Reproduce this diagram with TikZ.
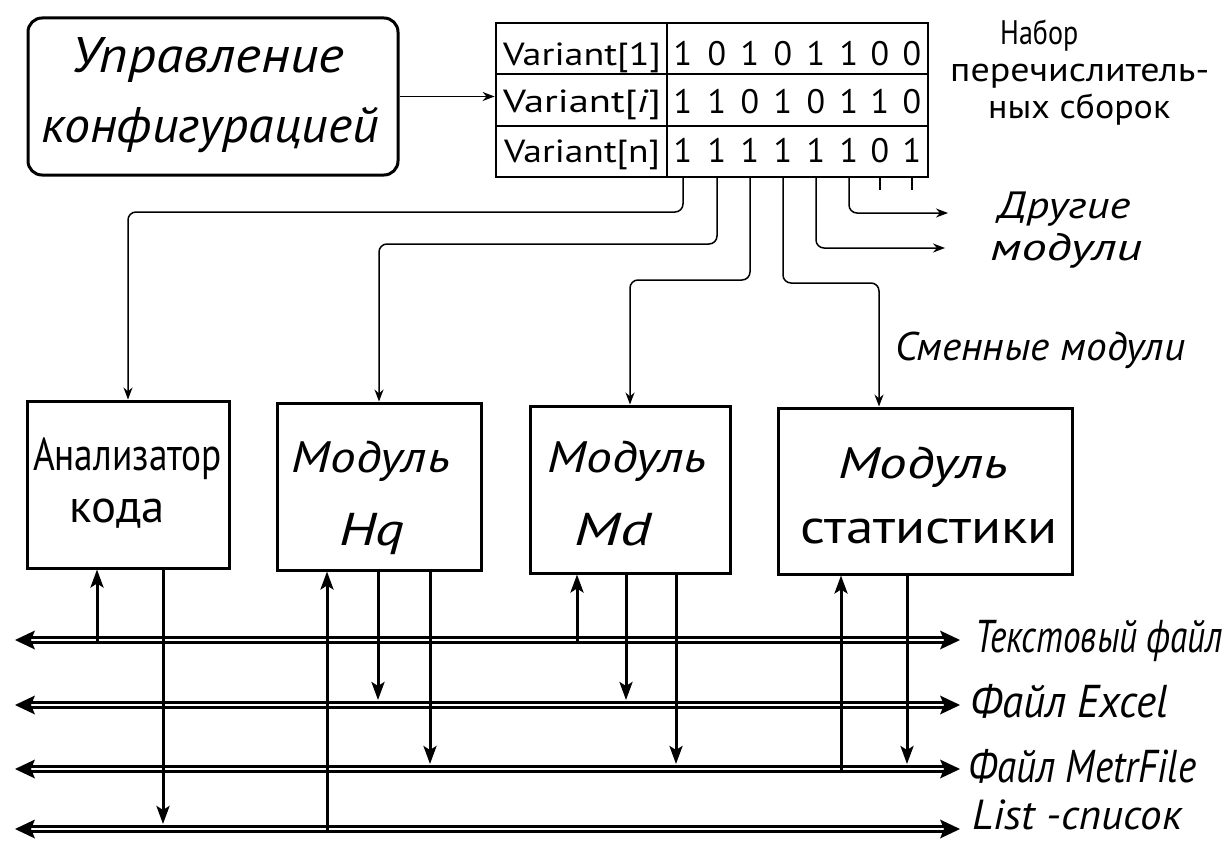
\documentclass[tikz,border=0pt]{standalone}
\usepackage{fontspec}
\setmainfont{PT Sans}
\usetikzlibrary{arrows.meta}
% stretch a line of text horizontally to a given width
\newcommand\wfit[2]{\resizebox{#1}{\height}{#2}}
\newcommand\fsz[1]{\fontsize{#1}{#1}\selectfont}

\tikzset{
  box/.style={draw, line width=3pt, inner sep=0pt},
  cell/.style={draw, line width=2.2pt, inner sep=0pt, minimum height=51.3pt},
  txt/.style={inner sep=0pt, anchor=base},
  txtw/.style={inner sep=0pt, anchor=base west},
  hand/.style={font=\fsz{#1}\itshape},
  print/.style={font=\fsz{#1}},
  thinln/.style={line width=1.5pt},
  thintip/.style={-{Stealth[length=12pt,width=9pt]}},
  vln/.style={line width=3pt},
  vtip/.style={-{Stealth[length=18pt,width=13pt,inset=4pt]}},
  bus/.style={double, line width=2.8pt, double distance=2.6pt,
              shorten <=13pt, shorten >=13pt},
}

\begin{document}
\begin{tikzpicture}[x=1pt,y=-1pt]
\path[use as bounding box, fill=white] (0,0) rectangle (1231,843);

% ---------- configuration manager ----------
\node[box, rounded corners=14pt, minimum width=370pt, minimum height=157pt] (cfg) at (213,96.5) {};
\node[txt, hand=50] (cfgA) at (208,72) {\wfit{272pt}{Управление}};
\node[txt, hand=50] (cfgB) at (210,142) {\wfit{337pt}{конфигурацией}};

% ---------- table of enumerator variants ----------
\node[cell, minimum width=171pt] (v1) at (581.5,48.7) {};
\node[cell, minimum width=171pt] (v2) at (581.5,100) {};
\node[cell, minimum width=171pt] (v3) at (581.5,151.3) {};
\node[cell, minimum width=261pt] (w1) at (797.5,48.7) {};
\node[cell, minimum width=261pt] (w2) at (797.5,100) {};
\node[cell, minimum width=261pt] (w3) at (797.5,151.3) {};
\node[draw, line width=2.8pt, inner sep=0pt, minimum width=432pt, minimum height=154pt] (tbl) at (712,100) {};

\node[txt, print=32] (n1) at (582,66) {\wfit{158pt}{Variant[1]}};
\node[txt, print=32] (n2) at (582,113) {\wfit{158pt}{Variant[\textit{i}]}};
\node[txt, print=32] (n3) at (582,162) {\wfit{156pt}{Variant[n]}};

\foreach \x [count=\c] in {683,717,750,783,816,849,880,912}{
  \coordinate (tap\c) at (\x,177);
}
\foreach \row/\y/\bits in {1/66/{1,0,1,0,1,1,0,0},2/113/{1,1,0,1,0,1,1,0},3/162/{1,1,1,1,1,1,0,1}}{
  \foreach \b [count=\c] in \bits {
    \node[txt, print=34] (d\row\c) at (tap\c |- 0,\y) {\b};
  }
}

\draw[thinln, thintip] (cfg.east) -- (cfg.east -| tbl.west);

\node[txtw, print=34] (setA) at (1000,45) {\wfit{78pt}{Набор}};
\node[txtw, print=34] (setB) at (950,82) {\wfit{259pt}{перечислитель-}};
\node[txtw, print=34] (setC) at (988,118) {\wfit{182pt}{ных сборок}};

% ---------- replaceable modules ----------
\node[box, minimum width=202pt, minimum height=167pt] (ana) at (128,484.5) {};
\node[box, minimum width=204pt, minimum height=167pt] (hq) at (379,486.5) {};
\node[box, minimum width=200pt, minimum height=167pt] (md) at (630,489.5) {};
\node[box, minimum width=294pt, minimum height=166pt] (stat) at (925,491) {};

\node[txt, print=46] (anaA) at (127.5,470) {\wfit{189pt}{Анализатор}};
\node[txt, print=46] (anaB) at (117,522) {\wfit{95pt}{кода}};
\node[txt, hand=44] (hqA) at (371,472) {\wfit{158pt}{Модуль}};
\node[txt, hand=46] (hqB) at (372,545) {\wfit{66pt}{Hq}};
\node[txt, hand=44] (mdA) at (627,472) {\wfit{159pt}{Модуль}};
\node[txt, hand=46] (mdB) at (613,545) {\wfit{77pt}{Md}};
\node[txt, hand=44] (stA) at (923,478) {\wfit{170pt}{Модуль}};
\node[txt, print=48] (stB) at (929,543) {\wfit{258pt}{статистики}};

% ---------- selector lines ----------
\coordinate (oth1) at (948,213);
\coordinate (oth2) at (945,248);
\draw[thinln, thintip, rounded corners=8pt] (tap1) -- ++(0,35) -| (ana.north);
\draw[thinln, thintip, rounded corners=8pt] (tap2) -- ++(0,67) -| (hq.north);
\draw[thinln, thintip, rounded corners=8pt] (tap3) -- ++(0,103) -| (md.north);
\draw[thinln, thintip, rounded corners=8pt] (tap4) -- ++(0,106) -| ([xshift=-46pt]stat.north);
\draw[thinln, thintip, rounded corners=8pt] (tap5) |- (oth2);
\draw[thinln, thintip, rounded corners=8pt] (tap6) |- (oth1);
\draw[thinln] (tap7) -- ++(0,13);
\draw[thinln] (tap8) -- ++(0,13);

\node[txtw, hand=38] (othA) at (998,218) {\wfit{132pt}{Другие}};
\node[txtw, hand=38] (othB) at (990,260) {\wfit{152pt}{модули}};
\node[txtw, hand=40] (repl) at (895,360) {\wfit{290pt}{Сменные модули}};

% ---------- output buses ----------
\foreach \b/\y in {1/640,2/705,3/769,4/829}{
  \coordinate (bus\b w) at (15,\y);
  \coordinate (bus\b e) at (960,\y);
  \draw[bus] (bus\b w) -- (bus\b e);
  \fill (bus\b e) -- ++(-20,-9.5) -- ++(4,9.5) -- ++(-4,9.5) -- cycle;
  \fill (bus\b w) -- ++(20,-9.5) -- ++(-4,9.5) -- ++(4,9.5) -- cycle;
}

\node[txtw, hand=46] (outA) at (975,652) {\wfit{248pt}{Текстовый файл}};
\node[txtw, hand=46] (outB) at (970,717) {\wfit{198pt}{Файл Excel}};
\node[txtw, hand=46] (outC) at (968,782) {\wfit{228pt}{Файл MetrFile}};
\node[txtw, hand=42] (outD) at (972,829) {\wfit{210pt}{List -список}};

% ---------- module to bus links ----------
\draw[vln, vtip] ([yshift=-4pt]97,0 |- bus1w) -- (ana.south -| 97,0);
\draw[vln, vtip] (ana.south -| 163,0) -- ([yshift=5pt]163,0 |- bus4w);
\draw[vln, vtip] ([yshift=-4pt]327,0 |- bus4w) -- (hq.south -| 327,0);
\draw[vln, vtip] (hq.south -| 378,0) -- ([yshift=5pt]378,0 |- bus2w);
\draw[vln, vtip] (hq.south -| 430,0) -- ([yshift=5pt]430,0 |- bus3w);
\draw[vln, vtip] ([yshift=-4pt]577,0 |- bus1w) -- (md.south -| 577,0);
\draw[vln, vtip] (md.south -| 626,0) -- ([yshift=5pt]626,0 |- bus2w);
\draw[vln, vtip] (md.south -| 676,0) -- ([yshift=5pt]676,0 |- bus3w);
\draw[vln, vtip] ([yshift=-4pt]841,0 |- bus3w) -- (stat.south -| 841,0);
\draw[vln, vtip] (stat.south -| 907,0) -- ([yshift=5pt]907,0 |- bus3w);
\end{tikzpicture}
\end{document}
